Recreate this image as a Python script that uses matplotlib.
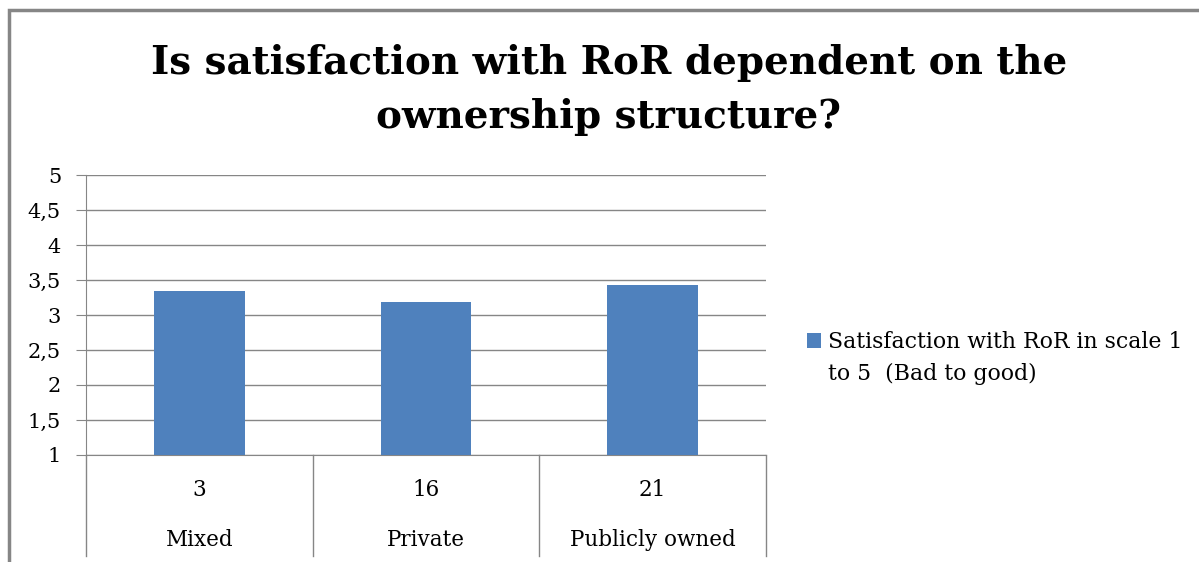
import matplotlib.pyplot as plt
from matplotlib.patches import Rectangle
import matplotlib.transforms as mtransforms

categories = ["Mixed", "Private", "Publicly owned"]
counts = ["3", "16", "21"]
values = [3.34, 3.18, 3.43]
yticks = [1, 1.5, 2, 2.5, 3, 3.5, 4, 4.5, 5]
ytick_labels = ["1", "1,5", "2", "2,5", "3", "3,5", "4", "4,5", "5"]
series_name = ["Satisfaction with RoR in scale 1", "to 5  (Bad to good)"]
title = "Is satisfaction with RoR dependent on the\nownership structure?"

W, H = 1199, 562
fig = plt.figure(figsize=(W / 100, H / 100), dpi=100)
serif = "DejaVu Serif"
grey = "#868686"
blue = "#4f81bd"

# outer chart frame (cut off at right and bottom)
fig.patches.append(Rectangle((8.5 / W, -0.1), 1.2, 1.1 - 9.5 / H,
                             transform=fig.transFigure, fill=False,
                             edgecolor=grey, linewidth=2.5))

fig.text(609 / W, 1 - 90 / H, title, ha="center", va="center",
         fontsize=28, fontweight="bold", family=serif, linespacing=1.5)

ax = fig.add_axes([86 / W, (H - 455) / H, (766 - 86) / W, (455 - 175) / H])
x = range(len(categories))
bars = ax.bar(x, values, width=0.4, color=blue, zorder=3)
ax.set_xlim(-0.5, len(categories) - 0.5)
ax.set_ylim(1, 5)
ax.set_yticks(yticks)
ax.set_yticklabels(ytick_labels, family=serif, fontsize=15)
ax.set_xticks([])
ax.yaxis.grid(True, color=grey, linewidth=1, zorder=0)
ax.tick_params(axis="y", length=7, color=grey, pad=11)
for s in ["top", "right"]:
    ax.spines[s].set_visible(False)
ax.spines["left"].set_color(grey)
ax.spines["bottom"].set_color(grey)

# multi-level category axis
trans = mtransforms.blended_transform_factory(ax.transData, fig.transFigure)
for b in [-0.5, 0.5, 1.5, 2.5]:
    ax.plot([b, b], [(H - 455) / H, (H - 556) / H], color=grey, lw=1,
            transform=trans, clip_on=False)
for i in x:
    ax.text(i, 1 - 490 / H, counts[i], transform=trans, ha="center",
            va="center", family=serif, fontsize=15.5)
    ax.text(i, 1 - 540 / H, categories[i], transform=trans, ha="center",
            va="center", family=serif, fontsize=15.5)

# legend: marker sits on the first line of the wrapped label
blank = Rectangle((0, 0), 1, 1, alpha=0)
leg = fig.legend([bars, blank], series_name, loc="upper left",
                 bbox_to_anchor=(807 / W, 1 - 331 / H),
                 frameon=False, prop={"family": serif, "size": 15.8},
                 handlelength=0.65, handleheight=0.65, handletextpad=0.3,
                 labelspacing=0.45, borderaxespad=0, borderpad=0)

fig.savefig("out.png", dpi=100)
